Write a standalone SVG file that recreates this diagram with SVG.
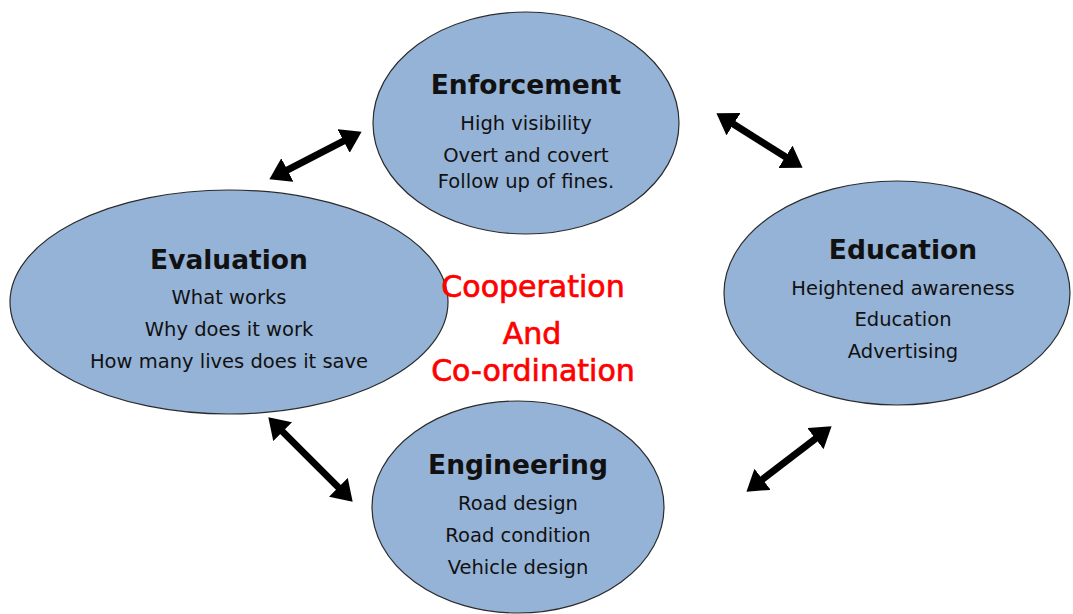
<svg xmlns="http://www.w3.org/2000/svg" width="1073" height="614" viewBox="0 0 1073 614">
<style>
.node ellipse{fill:#95b3d7;stroke:#2b2b2b;stroke-width:1.2}
.t{font-family:"DejaVu Sans",Verdana,sans-serif;fill:#111;text-anchor:middle}
.h{font-size:26.5px;font-weight:600}
.s{font-size:19.5px}
.c{font-family:"DejaVu Sans",Verdana,sans-serif;fill:#ff0000;stroke:#ff0000;stroke-width:0.7;text-anchor:middle;font-size:30px}
.conn line{stroke:#000;stroke-width:7;marker-start:url(#ah);marker-end:url(#ah)}
</style>
<defs>
<marker id="ah" viewBox="0 0 10 10" refX="0.4" refY="5" markerWidth="2.9" markerHeight="3.8" preserveAspectRatio="none" orient="auto-start-reverse" markerUnits="strokeWidth">
<path d="M0,0 L10,5 L0,10 z" fill="#000"/>
</marker>
</defs>
<rect width="1073" height="614" fill="#fff"/>
<g id="enforcement" class="node">
<ellipse cx="526" cy="123" rx="153" ry="111"/>
<text class="t h" x="526" y="94">Enforcement</text>
<text class="t s" x="526" y="130">High visibility</text>
<text class="t s" x="526" y="162">Overt and covert</text>
<text class="t s" x="526" y="188">Follow up of fines.</text>
</g>
<g id="education" class="node">
<ellipse cx="897" cy="293" rx="173" ry="112"/>
<text class="t h" x="903" y="259">Education</text>
<text class="t s" x="903" y="295">Heightened awareness</text>
<text class="t s" x="903" y="326">Education</text>
<text class="t s" x="903" y="358">Advertising</text>
</g>
<g id="evaluation" class="node">
<ellipse cx="229" cy="302" rx="219" ry="112"/>
<text class="t h" x="229" y="269">Evaluation</text>
<text class="t s" x="229" y="304">What works</text>
<text class="t s" x="229" y="336">Why does it work</text>
<text class="t s" x="229" y="368">How many lives does it save</text>
</g>
<g id="engineering" class="node">
<ellipse cx="518" cy="507" rx="146" ry="106"/>
<text class="t h" x="518" y="474">Engineering</text>
<text class="t s" x="518" y="510">Road design</text>
<text class="t s" x="518" y="542">Road condition</text>
<text class="t s" x="518" y="574">Vehicle design</text>
</g>
<g id="center-label">
<text class="c" x="533" y="297">Cooperation</text>
<text class="c" x="532" y="344">And</text>
<text class="c" x="533" y="381">Co-ordination</text>
</g>
<g id="connectors" class="conn">
<line x1="286.7" y1="170.4" x2="344.3" y2="140.6"/>
<line x1="732.9" y1="123.7" x2="786.1" y2="157.3"/>
<line x1="282.1" y1="431.1" x2="338.9" y2="487.9"/>
<line x1="761.9" y1="479.8" x2="816.1" y2="438.2"/>
</g>
</svg>
